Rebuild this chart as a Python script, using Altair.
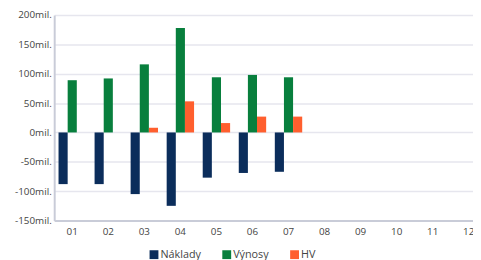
import altair as alt
import pandas as pd

months = ["01", "02", "03", "04", "05", "06", "07", "08", "09", "10", "11", "12"]
naklady = [-88, -88, -105, -125, -77, -69, -67]
vynosy = [89, 92, 116, 178, 94, 98, 94]
hv = [0, 0, 8, 53, 16, 27, 27]
series = ["Náklady", "Výnosy", "HV"]
colors = ["#0b2d5b", "#087f3d", "#ff5f2e"]
y_ticks = [-150, -100, -50, 0, 50, 100, 150, 200]

rows = []
for i, m in enumerate(months[: len(naklady)]):
    for s, vals in zip(series, [naklady, vynosy, hv]):
        rows.append({"month": m, "series": s, "value": vals[i]})
df = pd.DataFrame(rows)

chart = (
    alt.Chart(df)
    .mark_bar()
    .encode(
        x=alt.X(
            "month:N",
            scale=alt.Scale(domain=months, range=[0, 440], paddingInner=0.24, paddingOuter=0.12),
            axis=alt.Axis(title=None, labelAngle=0, labelPadding=6, grid=False, ticks=False),
        ),
        xOffset=alt.XOffset("series:N", sort=series, scale=alt.Scale(domain=series)),
        y=alt.Y(
            "value:Q",
            scale=alt.Scale(domain=[-150, 200], nice=False),
            axis=alt.Axis(
                title=None,
                values=y_ticks,
                labelExpr="datum.value + 'mil.'",
                ticks=False,
                labelPadding=3,
            ),
        ),
        color=alt.Color(
            "series:N",
            sort=series,
            scale=alt.Scale(domain=series, range=colors),
            legend=alt.Legend(
                title=None,
                orient="none",
                direction="horizontal",
                legendX=96,
                legendY=238,
                symbolType="square",
                symbolSize=81,
                symbolStrokeWidth=0,
                labelOffset=1,
                columnPadding=20,
                labelFont="Open Sans",
                labelFontSize=11,
                labelColor="#444",
            ),
        ),
    )
    .properties(
        width=426,
        height=209,
        autosize=alt.AutoSizeParams(type="none"),
        padding={"left": 47, "top": 5, "right": 0, "bottom": 38},
    )
    .configure_view(stroke=None)
    .configure_axis(
        domainColor="#c9ccd8",
        domainWidth=2,
        gridColor="#e6e6ee",
        gridWidth=1.5,
        labelFont="Open Sans",
        labelFontSize=10,
        labelColor="#444",
    )
)

chart.save("out.html", embed_options={"renderer": "svg", "actions": False})
